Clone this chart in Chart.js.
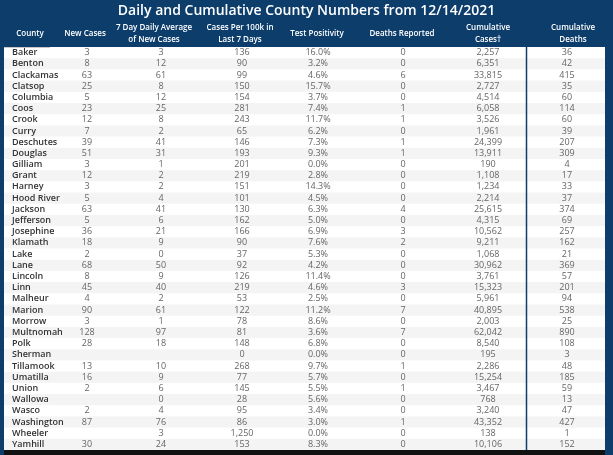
<!DOCTYPE html>
<html><head><meta charset="utf-8">
<script src="https://cdn.jsdelivr.net/npm/chart.js@4.4.1/dist/chart.umd.min.js"></script>
<style>
html,body{margin:0;padding:0;background:#0c3d6b;overflow:hidden}
#wrap{width:613px;height:455px;position:relative}
</style>
</head><body>
<div id="wrap"><canvas id="c" width="613" height="455"></canvas></div>
<script>
const titleText = 'Daily and Cumulative County Numbers from 12/14/2021';
const counties = ['Baker','Benton','Clackamas','Clatsop','Columbia','Coos','Crook','Curry','Deschutes','Douglas','Gilliam','Grant','Harney','Hood River','Jackson','Jefferson','Josephine','Klamath','Lake','Lane','Lincoln','Linn','Malheur','Marion','Morrow','Multnomah','Polk','Sherman','Tillamook','Umatilla','Union','Wallowa','Wasco','Washington','Wheeler','Yamhill'];
const newCases = [3,8,63,25,5,23,12,7,39,51,3,12,3,5,63,5,36,18,2,68,8,45,4,90,3,128,28,null,13,16,2,null,2,87,null,30];
const avg7Day = [3,12,61,8,12,25,8,2,41,31,1,2,2,4,41,6,21,9,0,50,9,40,2,61,1,97,18,null,10,9,6,0,4,76,3,24];
const per100k = [136,90,99,150,154,281,243,65,146,193,201,219,151,101,130,162,166,90,37,92,126,219,53,122,78,81,148,0,268,77,145,28,95,86,1250,153];
const positivity = [16.0,3.2,4.6,15.7,3.7,7.4,11.7,6.2,7.3,9.3,0.0,2.8,14.3,4.5,6.3,5.0,6.9,7.6,5.3,4.2,11.4,4.6,2.5,11.2,8.6,3.6,6.8,0.0,9.7,5.7,5.5,5.6,3.4,3.0,0.0,8.3];
const deathsReported = [0,0,6,0,0,1,1,0,1,1,0,0,0,0,4,0,3,2,0,0,0,3,0,7,0,7,0,0,1,0,1,0,0,1,0,0];
const cumCases = [2257,6351,33815,2727,4514,6058,3526,1961,24399,13911,190,1108,1234,2214,25615,4315,10562,9211,1068,30962,3761,15323,5961,40895,2003,62042,8540,195,2286,15254,3467,768,3240,43352,138,10106];
const cumDeaths = [36,42,415,35,60,114,60,39,207,309,4,17,33,37,374,69,257,162,21,369,57,201,94,538,25,890,108,3,48,185,59,13,47,427,1,152];
const headers = [['County'],['New Cases'],['7 Day Daily Average','of New Cases'],['Cases Per 100k in','Last 7 Days'],['Test Positivity'],['Deaths Reported'],['Cumulative','Cases\u2020'],['Cumulative','Deaths']];

// layout (column positions on the x scale, in table units)
const colX = [4, 83, 157, 238, 314, 399, 484, 563];
const headX = [26, 81, 150, 236, 313, 398, 484, 569];
const dividerX = 522;

const fmtInt = v => v == null ? '' : v.toLocaleString('en-US');
const fmtPct = v => v == null ? '' : v.toFixed(1) + '%';
const columns = [
  {values: counties, fmt: v => v, align: 'left', color: '#333333', font: '600 9px "Open Sans"'},
  {values: newCases, fmt: fmtInt},
  {values: avg7Day, fmt: fmtInt},
  {values: per100k, fmt: fmtInt},
  {values: positivity, fmt: fmtPct},
  {values: deathsReported, fmt: fmtInt},
  {values: cumCases, fmt: fmtInt},
  {values: cumDeaths, fmt: fmtInt}
];

const BG = '#0c3d6b';
const tablePlugin = {
  id: 'table',
  beforeDraw(chart) {
    const {ctx, width, height, chartArea: a} = chart;
    ctx.save();
    ctx.fillStyle = BG; ctx.fillRect(0, 0, width, height);
    ctx.fillStyle = '#ffffff'; ctx.fillRect(a.left, a.top, a.right - a.left, a.bottom - a.top);
    const ys = chart.scales.y, n = counties.length, band = (a.bottom - a.top) / n;
    ctx.fillStyle = '#f4f4f4';
    counties.forEach((c, i) => {
      if (i % 2 === 1) { const y = ys.getPixelForValue(i); ctx.fillRect(a.left, y - band / 2, a.right - a.left, band); }
    });
    const xs = chart.scales.x;
    const dx = Math.round(xs.getPixelForValue(dividerX)) + 0.5;
    ctx.strokeStyle = BG; ctx.lineWidth = 1.5;
    ctx.beginPath(); ctx.moveTo(dx, a.top); ctx.lineTo(dx, a.bottom); ctx.stroke();
    // bottom shadow strip
    ctx.fillStyle = '#111111'; ctx.fillRect(a.left, a.bottom, a.right - a.left, height - a.bottom);
    // title
    ctx.fillStyle = '#ffffff';
    ctx.textAlign = 'center'; ctx.textBaseline = 'middle';
    ctx.font = '600 14px "Open Sans"';
    ctx.fillText(titleText, width / 2, 11);
    // headers
    ctx.font = '600 8px "Open Sans"';
    headers.forEach((lines, k) => {
      const x = xs.getPixelForValue(headX[k]);
      if (lines.length === 1) ctx.fillText(lines[0], x, 34);
      else { ctx.fillText(lines[0], x, 28); ctx.fillText(lines[1], x, 40); }
    });
    ctx.strokeStyle = '#c8c8c8'; ctx.lineWidth = 1;
    ctx.beginPath(); ctx.moveTo(a.left, a.top + 0.5); ctx.lineTo(a.left + 46, a.top + 0.5); ctx.stroke();
    ctx.restore();
  },
  afterDatasetsDraw(chart) {
    const {ctx, chartArea: a} = chart;
    ctx.save();
    ctx.beginPath(); ctx.rect(a.left, a.top + 1, a.right - a.left, a.bottom - a.top - 1); ctx.clip();
    ctx.textBaseline = 'middle';
    columns.forEach((col, k) => {
      const meta = chart.getDatasetMeta(k);
      ctx.textAlign = col.align || 'center';
      ctx.fillStyle = col.color || '#666666';
      ctx.font = col.font || '9px "Open Sans"';
      meta.data.forEach((el, i) => {
        const s = col.fmt(col.values[i]);
        if (s !== '') ctx.fillText(s, el.x + (col.align === 'left' ? 4 : 0), el.y);
      });
    });
    ctx.restore();
  }
};

new Chart(document.getElementById('c'), {
  type: 'scatter',
  data: {
    datasets: columns.map((col, k) => ({
      label: headers[k].join(' '),
      data: counties.map((c, i) => ({x: colX[k], y: c})),
      pointRadius: 0
    }))
  },
  options: {
    responsive: false, animation: false, events: [],
    layout: {padding: {top: 47, bottom: 5, left: 4, right: 8}},
    scales: {
      x: {type: 'linear', min: 0, max: 601, display: false},
      y: {type: 'category', labels: counties, offset: true, display: false}
    },
    plugins: {legend: {display: false}, tooltip: {enabled: false}, title: {display: false}}
  },
  plugins: [tablePlugin]
});
</script>
</body></html>
